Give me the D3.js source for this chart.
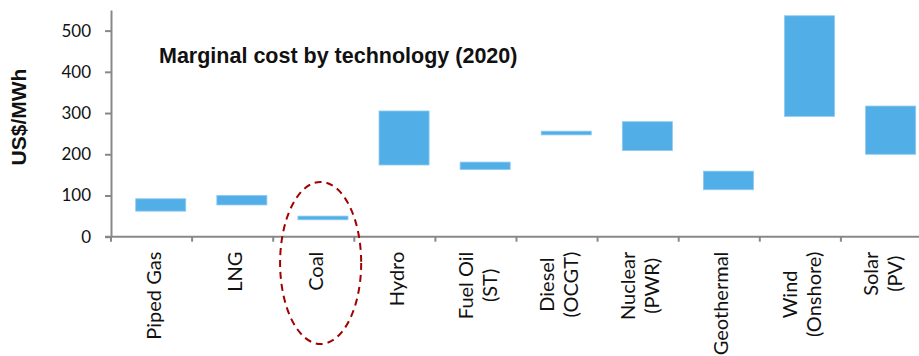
<!DOCTYPE html>
<html>
<head>
<meta charset="utf-8">
<script src="https://cdn.jsdelivr.net/npm/d3@7"></script>
<style>
  html, body { margin: 0; padding: 0; background: #fff; }
  svg { display: block; }
</style>
</head>
<body>
<div id="chart"></div>
<script>
// ── Data ─────────────────────────────────────────────────────────────────────
const categories = ['Piped Gas', 'LNG', 'Coal', 'Hydro', 'Fuel Oil', 'Diesel',
                    'Nuclear', 'Geothermal', 'Wind', 'Solar'];
const tickLabels = [['Piped Gas'], ['LNG'], ['Coal'], ['Hydro'], ['Fuel Oil', '(ST)'],
                    ['Diesel', '(OCGT)'], ['Nuclear', '(PWR)'], ['Geothermal'],
                    ['Wind', '(Onshore)'], ['Solar', '(PV)']];
const lowValues  = [62, 77, 41, 174, 163, 247, 209, 114, 292, 200];
const highValues = [92, 100, 50, 305, 181, 256, 279, 159, 536, 317];
const yTicks     = [0, 100, 200, 300, 400, 500];
const highlight  = 'Coal';

const W = 919, H = 356;
const BAR = '#52aee6';
const AXIS = '#888888';

const svg = d3.select('#chart').append('svg').attr('width', W).attr('height', H);

// ── Scales ───────────────────────────────────────────────────────────────────
const x = d3.scaleBand().domain(categories).range([111, 922]).padding(0);
const y = d3.scaleLinear().domain([0, 550]).range([236.7, 10]);
const bw = x.bandwidth();

// ── Bars (floating low → high) ───────────────────────────────────────────────
svg.append('g').selectAll('rect')
  .data(categories)
  .join('rect')
  .attr('x', d => x(d) + bw * 0.305)
  .attr('width', bw * 0.617)
  .attr('y', (d, i) => y(highValues[i]))
  .attr('height', (d, i) => y(lowValues[i]) - y(highValues[i]))
  .attr('fill', BAR)
  .attr('stroke', '#8ccaf0').attr('stroke-width', 0.8);

// ── Y axis ───────────────────────────────────────────────────────────────────
const yAx = svg.append('g').attr('transform', `translate(${x.range()[0]},0)`)
  .call(d3.axisLeft(y).tickValues(yTicks).tickSize(6).tickPadding(14).tickSizeOuter(0));
yAx.select('.domain').attr('stroke', AXIS).attr('stroke-width', 2);
yAx.selectAll('.tick line').attr('stroke', AXIS).attr('stroke-width', 2);
yAx.selectAll('.tick text')
  .attr('font-family', 'Lato, sans-serif').attr('font-size', 17).attr('fill', '#111');

// ── X axis ───────────────────────────────────────────────────────────────────
const x0 = y(0);
svg.append('line')
  .attr('x1', x.range()[0] - 6).attr('x2', W)
  .attr('y1', x0).attr('y2', x0)
  .attr('stroke', AXIS).attr('stroke-width', 2);

svg.append('g').selectAll('line')
  .data(categories.concat(['_end']))
  .join('line')
  .attr('x1', (d, i) => x.range()[0] + i * bw).attr('x2', (d, i) => x.range()[0] + i * bw)
  .attr('y1', x0).attr('y2', x0 + 5)
  .attr('stroke', AXIS).attr('stroke-width', 2);

// Category labels: rotated, lines centred within each block, block ends near the axis
const LINE_H = 24;
const labelTop = x0 + 15;
categories.forEach((c, i) => {
  const lines = tickLabels[i];
  const cx = x(c) + bw / 2 + 2;
  const g = svg.append('g').attr('transform', `translate(${cx},${labelTop}) rotate(-90)`);
  const texts = lines.map((ln, j) => g.append('text')
    .attr('font-family', 'Lato, sans-serif').attr('font-size', 20).attr('fill', '#111')
    .attr('text-anchor', 'middle')
    .attr('y', 7 + (j - (lines.length - 1) / 2) * LINE_H)
    .text(ln));
  const maxLen = d3.max(texts, t => t.node().getComputedTextLength());
  texts.forEach(t => t.attr('x', -maxLen / 2));
});

// ── Y axis title ─────────────────────────────────────────────────────────────
svg.append('text')
  .attr('transform', 'translate(26,117) rotate(-90)')
  .attr('text-anchor', 'middle')
  .attr('font-family', '"Liberation Sans", Arial, sans-serif')
  .attr('font-weight', 'bold').attr('font-size', 21).attr('fill', '#111')
  .text('US$/MWh');

// ── Chart title ──────────────────────────────────────────────────────────────
svg.append('text')
  .attr('x', 159).attr('y', 63)
  .attr('font-family', '"Liberation Sans", Arial, sans-serif')
  .attr('font-weight', 'bold').attr('font-size', 21.5).attr('fill', '#111')
  .text('Marginal cost by technology (2020)');

// ── Highlight ellipse around Coal ────────────────────────────────────────────
const eTop = y(133), eBot = 344;
svg.append('ellipse')
  .attr('cx', x(highlight) + bw * 0.585)
  .attr('cy', (eTop + eBot) / 2)
  .attr('rx', bw * 0.5)
  .attr('ry', (eBot - eTop) / 2)
  .attr('fill', 'none')
  .attr('stroke', '#a00000').attr('stroke-width', 2)
  .attr('stroke-dasharray', '7,5');
</script>
</body>
</html>
